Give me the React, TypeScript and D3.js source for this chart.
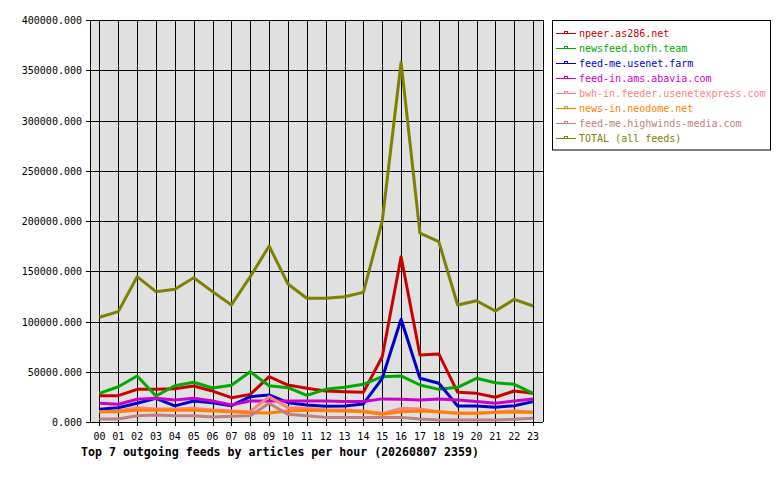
import React from "react";
import * as d3 from "d3";

const hours = ["00","01","02","03","04","05","06","07","08","09","10","11","12","13","14","15","16","17","18","19","20","21","22","23"];
const yTicks = [0, 50000, 100000, 150000, 200000, 250000, 300000, 350000, 400000];
const yTickLabels = ["0.000","50000.000","100000.000","150000.000","200000.000","250000.000","300000.000","350000.000","400000.000"];

const npeer = [26200, 26200, 32500, 32500, 33000, 35800, 30800, 24200, 27500, 45100, 36800, 33500, 30800, 30200, 29500, 65000, 164500, 66700, 67700, 29500, 28500, 24600, 30800, 28500];
const newsfeed = [28500, 35100, 45800, 25900, 36100, 39500, 33800, 36500, 50000, 36100, 34100, 26500, 32500, 34500, 37500, 45100, 45800, 36800, 32500, 34500, 43500, 39100, 37500, 28500];
const usenetFarm = [12600, 14200, 18600, 23600, 16000, 20900, 19200, 16200, 25200, 26900, 19200, 16900, 15600, 16000, 18000, 43500, 102200, 43500, 38500, 15900, 15900, 14600, 16200, 20300];
const abavia = [18600, 17600, 22600, 23600, 21900, 23600, 21000, 17000, 21000, 21000, 21000, 21000, 21000, 20400, 20400, 23000, 22600, 22000, 23000, 22000, 20400, 18600, 21000, 22800];
const usenetexpress = [10300, 11000, 14300, 13000, 13000, 13600, 12000, 11000, 10300, 25200, 14300, 13600, 12000, 12000, 11000, 8600, 13600, 13000, 10300, 8600, 8600, 9600, 11300, 9600];
const neodome = [10300, 10300, 11600, 11600, 11600, 11600, 11000, 10300, 9300, 9000, 11000, 11600, 11300, 11000, 10300, 7600, 10300, 11000, 10300, 8600, 8600, 9600, 9600, 9600];
const highwinds = [3000, 3000, 6300, 7000, 6300, 6300, 5000, 5600, 6300, 18600, 7600, 6300, 4600, 4600, 4600, 4600, 4600, 3000, 2000, 2000, 2000, 2000, 2700, 3700];
const total = [104200, 109800, 144600, 129700, 132000, 143600, 129700, 116400, 144600, 175100, 137300, 123100, 123100, 124700, 129000, 200000, 358000, 188000, 179400, 116400, 120700, 110400, 122100, 115400];

const seriesNames = ["npeer.as286.net","newsfeed.bofh.team","feed-me.usenet.farm","feed-in.ams.abavia.com","bwh-in.feeder.usenetexpress.com","news-in.neodome.net","feed-me.highwinds-media.com","TOTAL (all feeds)"];
const seriesValues = [npeer, newsfeed, usenetFarm, abavia, usenetexpress, neodome, highwinds, total];
const seriesColors = ["#cc0000","#00aa00","#0000cc","#cc00cc","#ff8080","#ff8000","#c08080","#808000"];

const title = "Top 7 outgoing feeds by articles per hour (20260807 2359)";

const FONT = "'DejaVu Sans Mono', monospace";

export default function App() {
  const left = 90, right = 542.5, top = 20, bottom = 422;
  const x = d3.scaleLinear().domain([-0.5, 23.5]).range([left, right]);
  const y = d3.scaleLinear().domain([0, 400000]).range([bottom, top]);
  const line = d3.line<number>().x((_, i) => x(i)).y((d) => y(d));

  const legX = 552.5, legY = 20.5;

  return (
    <svg width={780} height={480} style={{ position: "absolute", left: 0, top: 0, background: "#fff" }}>
      <rect x={0} y={0} width={780} height={480} fill="#fff" />
      <rect x={left} y={top} width={right - left} height={bottom - top} fill="#e0e0e0" />
      {yTicks.map((t, i) => (
        <g key={"y" + i}>
          <line x1={left - 4} x2={right} y1={Math.round(y(t)) + 0.5} y2={Math.round(y(t)) + 0.5} stroke="#000" strokeWidth={1} shapeRendering="crispEdges" />
          <text x={82} y={Math.round(y(t)) + 4} textAnchor="end" fontFamily={FONT} fontSize={10} fill="#000">{yTickLabels[i]}</text>
        </g>
      ))}
      {hours.map((h, i) => (
        <g key={"x" + i}>
          <line x1={Math.round(x(i)) + 0.5} x2={Math.round(x(i)) + 0.5} y1={top} y2={bottom + 4} stroke="#000" strokeWidth={1} shapeRendering="crispEdges" />
          <text x={x(i)} y={439.5} textAnchor="middle" fontFamily={FONT} fontSize={10} fill="#000">{h}</text>
        </g>
      ))}
      <line x1={left + 0.5} x2={left + 0.5} y1={top} y2={bottom} stroke="#000" shapeRendering="crispEdges" />
      <line x1={right + 0.5} x2={right + 0.5} y1={top} y2={bottom} stroke="#000" shapeRendering="crispEdges" />
      {seriesValues.map((vals, si) => (
        <path key={"s" + si} d={line(vals) || ""} fill="none" stroke={seriesColors[si]} strokeWidth={3} strokeLinejoin="round" />
      ))}
      <text x={81} y={456} fontFamily={FONT} fontSize={11.6} fontWeight="bold" fill="#000">{title}</text>
      <rect x={legX} y={legY} width={218} height={129.5} fill="#fff" stroke="#000" strokeWidth={1} />
      {seriesNames.map((n, i) => {
        const ly = 33 + i * 15;
        return (
          <g key={"l" + i}>
            <line x1={556} x2={576} y1={ly + 0.5} y2={ly + 0.5} stroke={seriesColors[i]} strokeWidth={1} shapeRendering="crispEdges" />
            <rect x={564.5} y={ly - 2} width={3} height={2} fill="#fff" stroke={seriesColors[i]} strokeWidth={1} shapeRendering="crispEdges" />
            <text x={579} y={ly + 4} fontFamily={FONT} fontSize={10} fill={seriesColors[i]}>{n}</text>
          </g>
        );
      })}
    </svg>
  );
}
